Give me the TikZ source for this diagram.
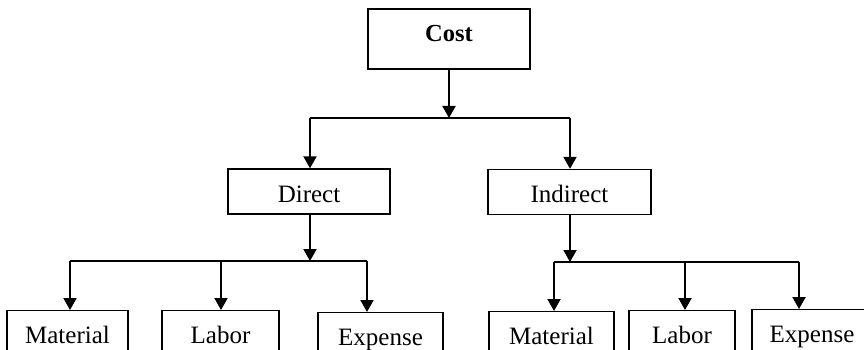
\documentclass[tikz,border=0pt]{standalone}
\usepackage{fontspec}
\setmainfont{Liberation Serif}
\usetikzlibrary{arrows.meta}
\begin{document}
\begin{tikzpicture}[x=1pt,y=-1pt,
  box/.style={draw, line width=1.4pt, inner sep=0pt, font=\fontsize{25}{29}\selectfont},
  topbox/.style={box, minimum width=162pt, minimum height=60pt, text height=17pt, text depth=11pt, font=\fontsize{24.5}{29}\selectfont\bfseries},
  midbox/.style={box, minimum height=45pt, text height=21pt, text depth=0pt},
  leafbox/.style={box, anchor=north, minimum height=54pt, text height=17pt, text depth=5pt},
  conn/.style={line width=2pt},
  arr/.style={conn, -{Triangle[width=13pt,length=12pt]}}]
\useasboundingbox (0,0) rectangle (864,350);
\clip (0,0) rectangle (864,350);
\fill[white] (0,0) rectangle (864,350);
% nodes
\node[topbox] (cost) at (449,39) {Cost};
\node[midbox, minimum width=162pt] (direct) at (309,191.5) {Direct};
\node[midbox, minimum width=163pt] (indirect) at (569.5,192) {Indirect};
\node[leafbox, minimum width=121pt] (m1) at (67.5,310) {Material};
\node[leafbox, minimum width=117pt] (l1) at (220.5,310) {Labor};
\node[leafbox, minimum width=125pt] (e1) at (380.5,312) {Expense};
\node[leafbox, minimum width=125pt] (m2) at (551.5,311) {Material};
\node[leafbox, minimum width=106pt] (l2) at (682,310) {Labor};
\node[leafbox, minimum width=120pt] (e2) at (812,309) {Expense};
% junction coordinates
\coordinate (b1l) at (310,118);
\coordinate (b1r) at (570,118);
\coordinate (b2l) at (70,261);
\coordinate (b2m) at (221,261);
\coordinate (b2r) at (367,261);
\coordinate (b2c) at (310,261);
\coordinate (b3l) at (554,262);
\coordinate (b3m) at (685,262);
\coordinate (b3r) at (799,262);
\coordinate (b3c) at (570,262);
% level 1
\draw[conn] (b1l) -- (b1r);
\draw[arr] (cost.south) -- (cost.south |- b1l);
\draw[arr] (b1l) -- (b1l |- direct.north);
\draw[arr] (b1r) -- (b1r |- indirect.north);
% direct
\draw[conn] (b2l) -- (b2r);
\draw[arr] (b2c |- direct.south) -- (b2c);
\draw[arr] (b2l) -- (b2l |- m1.north);
\draw[arr] (b2m) -- (b2m |- l1.north);
\draw[arr] (b2r) -- (b2r |- e1.north);
% indirect
\draw[conn] (b3l) -- (b3r);
\draw[arr] (b3c |- indirect.south) -- (b3c);
\draw[arr] (b3l) -- (b3l |- m2.north);
\draw[arr] (b3m) -- (b3m |- l2.north);
\draw[arr] (b3r) -- (b3r |- e2.north);
\end{tikzpicture}
\end{document}
